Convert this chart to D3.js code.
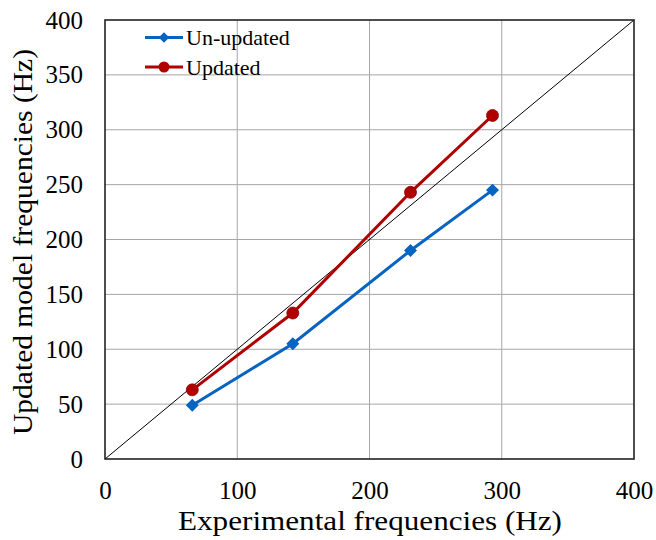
<!DOCTYPE html>
<html><head><meta charset="utf-8">
<script src="https://cdn.jsdelivr.net/npm/d3@7"></script>
<style>body{margin:0;background:#fff}svg{display:block}</style>
</head><body><svg id="c" width="656" height="540"></svg>
<script>
const expFreq = [66, 142, 231, 293];
const unUpdated = [49, 105, 190, 245];
const updated = [63, 133, 243, 313];
const xTicks = [0, 100, 200, 300, 400];
const yTicks = [0, 50, 100, 150, 200, 250, 300, 350, 400];
const seriesNames = ["Un-updated", "Updated"];

const svg = d3.select("#c");
const L = 105, R = 634, T = 20, B = 459;
const x = d3.scaleLinear().domain([0, 400]).range([L, R]);
const y = d3.scaleLinear().domain([0, 400]).range([B, T]);
const font = "'Liberation Serif', 'Times New Roman', serif";

// grid
svg.append("g").selectAll("line").data(yTicks.filter(d => d > 0 && d < 400)).join("line")
  .attr("x1", L).attr("x2", R).attr("y1", d => y(d)).attr("y2", d => y(d))
  .attr("stroke", "#a6a6a6").attr("stroke-width", 1);
svg.append("g").selectAll("line").data(xTicks.filter(d => d > 0 && d < 400)).join("line")
  .attr("y1", T).attr("y2", B).attr("x1", d => x(d)).attr("x2", d => x(d))
  .attr("stroke", "#a6a6a6").attr("stroke-width", 1);

// diagonal
svg.append("line").attr("x1", x(0)).attr("y1", y(0)).attr("x2", x(400)).attr("y2", y(400))
  .attr("stroke", "#000").attr("stroke-width", 1);

// frame
svg.append("rect").attr("x", L).attr("y", T).attr("width", R - L).attr("height", B - T)
  .attr("fill", "none").attr("stroke", "#222").attr("stroke-width", 1.6);

// axes
const xAxis = svg.append("g").attr("transform", `translate(0,${B})`)
  .call(d3.axisBottom(x).tickValues(xTicks).tickSize(0).tickPadding(22));
const yAxis = svg.append("g").attr("transform", `translate(${L},0)`)
  .call(d3.axisLeft(y).tickValues(yTicks).tickSize(0).tickPadding(22));
[xAxis, yAxis].forEach(a => {
  a.select(".domain").remove();
  a.selectAll("text").attr("font-family", font).attr("font-size", 25).attr("fill", "#000");
});

// series
const line = d3.line().x(d => x(d[0])).y(d => y(d[1]));
const blue = "#0563c1", red = "#b00000";
const uData = expFreq.map((v, i) => [v, unUpdated[i]]);
const dData = expFreq.map((v, i) => [v, updated[i]]);

svg.append("path").datum(uData).attr("d", line).attr("fill", "none").attr("stroke", blue).attr("stroke-width", 3);
svg.append("g").selectAll("path").data(uData).join("path")
  .attr("d", d3.symbol().type(d3.symbolSquare).size(84))
  .attr("transform", d => `translate(${x(d[0])},${y(d[1])}) rotate(45)`)
  .attr("fill", blue);

svg.append("path").datum(dData).attr("d", line).attr("fill", "none").attr("stroke", red).attr("stroke-width", 3);
svg.append("g").selectAll("circle").data(dData).join("circle")
  .attr("cx", d => x(d[0])).attr("cy", d => y(d[1])).attr("r", 6)
  .attr("fill", red).attr("stroke", "#900000").attr("stroke-width", 0.8);

// legend
const leg = svg.append("g");
[[blue, "diamond"], [red, "circle"]].forEach((s, i) => {
  const ly = 37.5 + i * 29.5;
  leg.append("line").attr("x1", 145).attr("x2", 183).attr("y1", ly).attr("y2", ly)
    .attr("stroke", s[0]).attr("stroke-width", 3);
  if (s[1] === "diamond") {
    leg.append("path").attr("d", d3.symbol().type(d3.symbolSquare).size(56)())
      .attr("transform", `translate(164,${ly}) rotate(45)`).attr("fill", s[0]);
  } else {
    leg.append("circle").attr("cx", 164).attr("cy", ly).attr("r", 5.5).attr("fill", s[0]);
  }
  leg.append("text").attr("x", 186).attr("y", ly + 7.5).text(seriesNames[i])
    .attr("font-family", font).attr("font-size", 22).attr("fill", "#000");
});

// titles
svg.append("text").attr("x", 370).attr("y", 530).attr("text-anchor", "middle")
  .attr("font-family", font).attr("font-size", 28)
  .attr("textLength", 384).attr("lengthAdjust", "spacingAndGlyphs")
  .text("Experimental frequencies (Hz)");
svg.append("text").attr("transform", `translate(32,242) rotate(-90)`).attr("text-anchor", "middle")
  .attr("font-family", font).attr("font-size", 28)
  .attr("textLength", 386).attr("lengthAdjust", "spacingAndGlyphs")
  .text("Updated model frequencies (Hz)");
</script></body></html>
